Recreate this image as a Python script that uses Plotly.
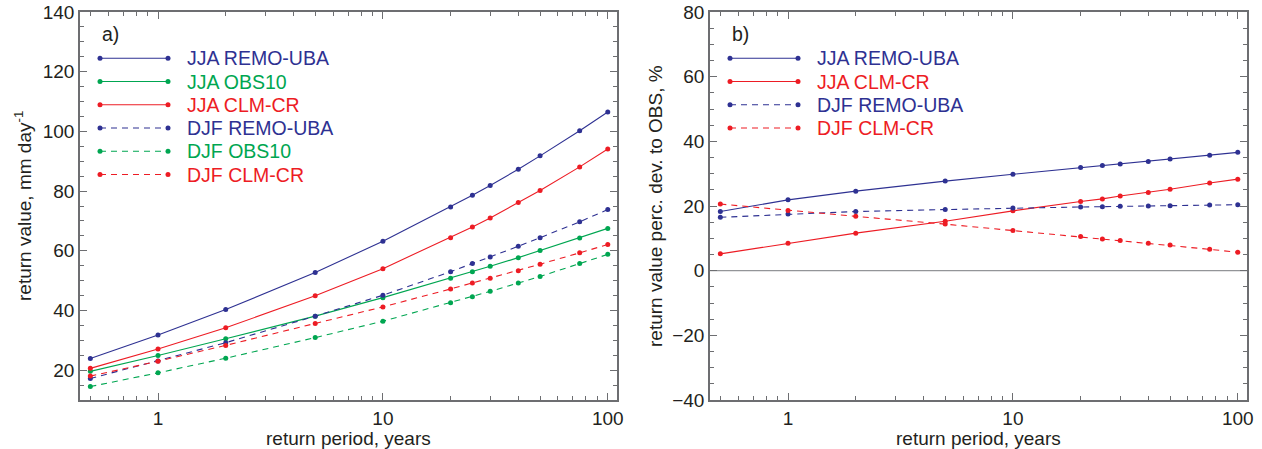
import plotly.graph_objects as go

# Return periods (years)
periods = [0.5, 1, 2, 5, 10, 20, 25, 30, 40, 50, 75, 100]

# Panel a) return values, mm/day
jja_remo = [23.9, 31.8, 40.3, 52.7, 63.2, 74.7, 78.6, 81.9, 87.3, 91.8, 100.2, 106.5]
jja_obs = [19.6, 24.9, 30.5, 38.1, 44.3, 50.8, 53.0, 54.8, 57.7, 60.1, 64.3, 67.5]
jja_clm = [20.6, 27.1, 34.2, 44.9, 54.0, 64.4, 68.0, 71.0, 76.2, 80.2, 88.1, 94.1]
djf_remo = [17.2, 23.1, 29.2, 38.1, 45.1, 53.0, 55.7, 57.9, 61.5, 64.4, 69.7, 73.8]
djf_obs = [14.5, 19.1, 24.0, 30.9, 36.4, 42.6, 44.6, 46.4, 49.2, 51.4, 55.7, 58.8]
djf_clm = [18.0, 23.0, 28.3, 35.6, 41.2, 47.2, 49.2, 50.8, 53.3, 55.5, 59.3, 62.1]

# Panel b) percentage deviation from observations
dev_jja_remo = [18.3, 21.9, 24.6, 27.7, 29.8, 31.9, 32.5, 33.0, 33.8, 34.5, 35.7, 36.6]
dev_jja_clm = [5.2, 8.5, 11.6, 15.3, 18.5, 21.4, 22.2, 23.1, 24.2, 25.2, 27.1, 28.3]
dev_djf_remo = [16.5, 17.5, 18.3, 18.9, 19.4, 19.7, 19.8, 19.9, 20.0, 20.1, 20.3, 20.4]
dev_djf_clm = [20.6, 18.6, 16.8, 14.4, 12.4, 10.6, 9.8, 9.3, 8.5, 7.9, 6.6, 5.7]

BLUE = "#2E3192"
GREEN = "#00A651"
RED = "#ED1C24"
TXT = "#231F20"
AX = "#6D6E71"
FONT = "Liberation Sans, Arial, sans-serif"
DASH = "6px,5px"

W, H = 1262, 449
# panel boxes in pixels (left, right, top, bottom)
PA = (80, 617, 12, 400)
PB = (710, 1247, 12, 400)


def xdom(p):
    return [p[0] / W, p[1] / W]


def ydom(p):
    return [1 - p[3] / H, 1 - p[2] / H]


panel_a = [
    ("JJA REMO-UBA", jja_remo, BLUE, "solid"),
    ("JJA OBS10", jja_obs, GREEN, "solid"),
    ("JJA CLM-CR", jja_clm, RED, "solid"),
    ("DJF REMO-UBA", djf_remo, BLUE, DASH),
    ("DJF OBS10", djf_obs, GREEN, DASH),
    ("DJF CLM-CR", djf_clm, RED, DASH),
]
panel_b = [
    ("JJA REMO-UBA", dev_jja_remo, BLUE, "solid"),
    ("JJA CLM-CR", dev_jja_clm, RED, "solid"),
    ("DJF REMO-UBA", dev_djf_remo, BLUE, DASH),
    ("DJF CLM-CR", dev_djf_clm, RED, DASH),
]

fig = go.Figure()

# zero reference line in panel b
fig.add_trace(go.Scatter(x=[0.45, 110], y=[0, 0], mode="lines",
                         line=dict(color="#939598", width=1.2),
                         xaxis="x2", yaxis="y2", showlegend=False, hoverinfo="skip"))

for name, vals, col, dash in panel_a:
    fig.add_trace(go.Scatter(x=periods, y=vals, mode="lines+markers", name=name,
                             line=dict(color=col, width=1.1, dash=dash),
                             marker=dict(color=col, size=5),
                             xaxis="x", yaxis="y", showlegend=False))
for name, vals, col, dash in panel_b:
    fig.add_trace(go.Scatter(x=periods, y=vals, mode="lines+markers", name=name,
                             line=dict(color=col, width=1.1, dash=dash),
                             marker=dict(color=col, size=5),
                             xaxis="x2", yaxis="y2", showlegend=False))

# hand-drawn legends, placed on a pixel overlay axis
annotations = []
legend_rows = [58.3, 81.5, 104.7, 128, 151.3, 174.5]
for (entries, x0, x1, xt) in [(panel_a, 100, 168, 185), (panel_b, 730, 798, 815)]:
    for (name, _, col, dash), yy in zip(entries, legend_rows):
        fig.add_trace(go.Scatter(x=[x0, x1], y=[yy, yy], mode="lines+markers",
                                 line=dict(color=col, width=1.1, dash=dash),
                                 marker=dict(color=col, size=5),
                                 xaxis="x3", yaxis="y3", showlegend=False, hoverinfo="skip"))
        annotations.append(dict(x=xt, y=yy, xref="x3", yref="y3", text=name, showarrow=False,
                                xanchor="left", yanchor="middle",
                                font=dict(family=FONT, size=19.5, color=col)))

for lbl, xx in [("a)", 100), ("b)", 730)]:
    annotations.append(dict(x=xx, y=34, xref="x3", yref="y3", text=lbl, showarrow=False,
                            xanchor="left", yanchor="middle",
                            font=dict(family=FONT, size=19.5, color=TXT)))

# axis titles
annotations += [
    dict(x=348, y=438, xref="x3", yref="y3", text="return period, years", showarrow=False,
         xanchor="center", yanchor="middle", font=dict(family=FONT, size=19, color=TXT)),
    dict(x=978, y=438, xref="x3", yref="y3", text="return period, years", showarrow=False,
         xanchor="center", yanchor="middle", font=dict(family=FONT, size=19, color=TXT)),
    dict(x=23, y=206, xref="x3", yref="y3", text="return value, mm day<sup>-1</sup>",
         showarrow=False, textangle=-90, xanchor="center", yanchor="middle",
         font=dict(family=FONT, size=19, color=TXT)),
    dict(x=655, y=206, xref="x3", yref="y3", text="return value perc. dev. to OBS, %",
         showarrow=False, textangle=-90, xanchor="center", yanchor="middle",
         font=dict(family=FONT, size=19, color=TXT)),
]


def xaxis_style(p):
    return dict(
        type="log", range=[-0.347, 2.041], domain=xdom(p),
        tickmode="array", tickvals=[1, 10, 100], ticktext=["1", "10", "100"],
        ticks="inside", ticklen=7, tickwidth=1.3, tickcolor=AX,
        minor=dict(dtick="D1", ticks="inside", ticklen=4, tickwidth=1.3, tickcolor=AX),
        showline=True, linecolor=AX, linewidth=1.6, mirror="allticks",
        showgrid=False, zeroline=False, ticklabelstandoff=0,
        tickfont=dict(family=FONT, size=19, color=TXT),
    )


def yaxis_style(p, rng, major, minor_step):
    return dict(
        range=rng, domain=ydom(p), tick0=0, dtick=major,
        ticks="inside", ticklen=7, tickwidth=1.3, tickcolor=AX,
        minor=dict(dtick=minor_step, ticks="inside", ticklen=4, tickwidth=1.3, tickcolor=AX),
        showline=True, linecolor=AX, linewidth=1.6, mirror="allticks",
        showgrid=False, zeroline=False,
        tickfont=dict(family=FONT, size=19, color=TXT),
    )


fig.update_layout(
    width=W, height=H,
    margin=dict(l=0, r=0, t=0, b=0, autoexpand=False),
    paper_bgcolor="white", plot_bgcolor="rgba(0,0,0,0)",
    showlegend=False,
    xaxis=dict(**xaxis_style(PA), anchor="y"),
    yaxis=dict(**yaxis_style(PA, [10, 140], 20, 5), anchor="x"),
    xaxis2=dict(**xaxis_style(PB), anchor="y2"),
    yaxis2=dict(**yaxis_style(PB, [-40, 80], 20, 5), anchor="x2"),
    xaxis3=dict(domain=[0, 1], range=[0, W], visible=False, anchor="y3", fixedrange=True),
    yaxis3=dict(domain=[0, 1], range=[H, 0], visible=False, anchor="x3", fixedrange=True),
    annotations=annotations,
)

fig.write_html("out.html")
